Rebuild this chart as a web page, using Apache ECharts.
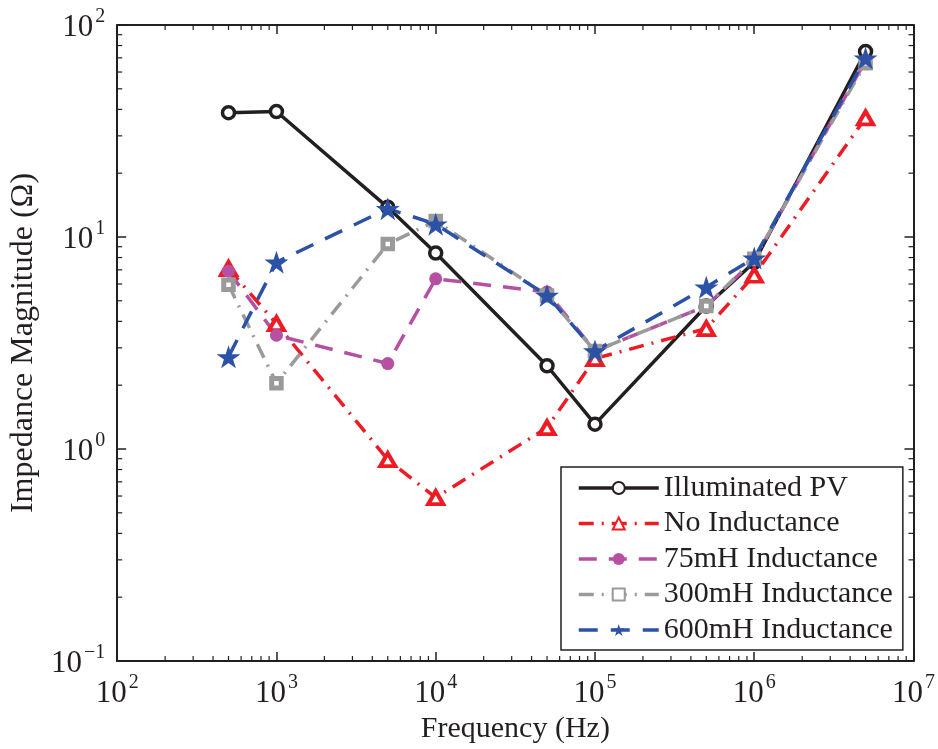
<!DOCTYPE html>
<html>
<head>
<meta charset="utf-8">
<script src="https://cdn.jsdelivr.net/npm/echarts@6/dist/echarts.min.js"></script>
<style>html,body{margin:0;padding:0;background:#fff}#c{width:938px;height:749px}</style>
</head>
<body>
<div id="c"></div>
<script>
const freq = [500, 1000, 5000, 10000, 50000, 100000, 500000, 1000000, 5000000];
const illuminatedPV = [38.6, 39.1, 13.8, 8.4, 2.47, 1.31, 4.73, 7.6, 75];
const noInductance = [7.1, 3.9, 0.89, 0.59, 1.26, 2.67, 3.7, 6.6, 36.5];
const ind75mH = [6.9, 3.44, 2.53, 6.35, 5.5, 2.9, 4.73, 7.8, 68];
const ind300mH = [5.95, 2.04, 9.27, 11.9, 5.3, 2.9, 4.73, 7.9, 66];
const ind600mH = [2.72, 7.6, 13.6, 11.5, 5.3, 2.9, 5.8, 7.95, 69.8];
const seriesNames = ['Illuminated PV', 'No Inductance', '75mH Inductance', '300mH Inductance', '600mH Inductance'];
const xRange = [100, 10000000];
const yRange = [0.1, 100];

const FONT = '"Liberation Serif", "Times New Roman", serif';
const TXT = '#231f20';
const STAR = 'path://M100,0 L122.45,69.1 L195.11,69.1 L136.33,111.8 L158.78,180.9 L100,138.2 L41.22,180.9 L63.67,111.8 L4.89,69.1 L77.55,69.1 Z';

function pairs(ys) { return freq.map((f, i) => [f, ys[i]]); }
function powLabel(v) {
  const e = Math.round(Math.log10(v));
  return '{b|10}{s|' + (e < 0 ? '\u2212' + (-e) : e) + '}';
}
const rich = {
  b: { fontFamily: FONT, fontSize: 31, color: TXT, lineHeight: 36, verticalAlign: 'bottom' },
  s: { fontFamily: FONT, fontSize: 20, color: TXT, lineHeight: 36, verticalAlign: 'top', padding: [0, 0, 0, 2] }
};
const axisCommon = {
  type: 'log', logBase: 10,
  axisLine: { show: true, onZero: false, lineStyle: { color: TXT, width: 2 } },
  axisTick: { show: true, inside: true, length: 9, lineStyle: { color: TXT, width: 1.5 } },
  splitLine: { show: false }
};

const chart = echarts.init(document.getElementById('c'), null, { renderer: 'canvas' });
const option = {
  animation: false,
  backgroundColor: '#fff',
  grid: { left: 113, right: 21, top: 25, bottom: 85, containLabel: false },
  xAxis: [
    Object.assign({}, axisCommon, {
      min: xRange[0], max: xRange[1], splitNumber: 5, position: 'bottom',
      name: 'Frequency (Hz)', nameLocation: 'middle', nameGap: 53,
      nameTextStyle: { fontFamily: FONT, fontSize: 30, color: TXT },
      axisLabel: { margin: 12, formatter: powLabel, rich: rich }
    }),
    Object.assign({}, axisCommon, {
      min: xRange[0], max: xRange[1], splitNumber: 5, position: 'top',
      axisLabel: { show: false }
    })
  ],
  yAxis: [
    Object.assign({}, axisCommon, {
      min: yRange[0], max: yRange[1], splitNumber: 3, position: 'left',
      name: 'Impedance Magnitude (\u03A9)', nameLocation: 'middle', nameGap: 70,
      nameTextStyle: { fontFamily: FONT, fontSize: 32, color: TXT },
      axisLabel: { margin: 12, formatter: powLabel, rich: rich }
    }),
    Object.assign({}, axisCommon, {
      min: yRange[0], max: yRange[1], splitNumber: 3, position: 'right',
      axisLabel: { show: false }
    })
  ],
  legend: {
    orient: 'vertical', left: 561, top: 467,
    backgroundColor: '#fff', borderColor: TXT, borderWidth: 1.5,
    padding: [5, 10, 4, 16], itemWidth: 80, itemHeight: 15, itemGap: 3.5,
    lineStyle: { width: 3.5 },
    textStyle: { fontFamily: FONT, fontSize: 30, color: TXT, lineHeight: 32 },
    data: seriesNames
  },
  series: [
    {
      name: seriesNames[0], type: 'line', data: pairs(illuminatedPV), color: '#231f20',
      symbol: 'circle', symbolSize: 12,
      lineStyle: { color: '#231f20', width: 3.5 },
      itemStyle: { color: '#fff', borderColor: '#231f20', borderWidth: 3.5 }
    },
    {
      name: seriesNames[1], type: 'line', data: pairs(noInductance), color: '#ed1c24',
      symbol: 'triangle', symbolSize: [15, 13],
      lineStyle: { color: '#ed1c24', width: 3.5, type: [15, 8, 2, 8] },
      itemStyle: { color: '#fff', borderColor: '#ed1c24', borderWidth: 4 }
    },
    {
      name: seriesNames[2], type: 'line', data: pairs(ind75mH), color: '#b650a3',
      symbol: 'circle', symbolSize: 13,
      lineStyle: { color: '#b650a3', width: 3.5, type: [18, 12] },
      itemStyle: { color: '#b650a3', borderColor: '#b650a3', borderWidth: 0 }
    },
    {
      name: seriesNames[3], type: 'line', data: pairs(ind300mH), color: '#9a9a9a',
      symbol: 'rect', symbolSize: 9.5,
      lineStyle: { color: '#9a9a9a', width: 3.5, type: [15, 8, 2, 8] },
      itemStyle: { color: '#fff', borderColor: '#9a9a9a', borderWidth: 5 }
    },
    {
      name: seriesNames[4], type: 'line', data: pairs(ind600mH), color: '#2b52a7',
      symbol: STAR, symbolSize: [24, 23],
      lineStyle: { color: '#2b52a7', width: 3.5, type: [19, 13] },
      itemStyle: { color: '#2b52a7', borderWidth: 0 }
    }
  ]
};
chart.setOption(option);

// minor log ticks on all four sides, placed through the axis scales
const gr = chart.getModel().getComponent('grid', 0).coordinateSystem.getRect();
const g = [];
const ML = 5;
const tickStyle = { stroke: TXT, lineWidth: 1.2 };
for (let d = Math.log10(xRange[0]); d < Math.log10(xRange[1]); d++) {
  for (let k = 2; k <= 9; k++) {
    const px = chart.convertToPixel({ xAxisIndex: 0 }, k * Math.pow(10, d));
    g.push({ type: 'line', silent: true, z: 5, shape: { x1: px, y1: gr.y + gr.height, x2: px, y2: gr.y + gr.height - ML }, style: tickStyle });
    g.push({ type: 'line', silent: true, z: 5, shape: { x1: px, y1: gr.y, x2: px, y2: gr.y + ML }, style: tickStyle });
  }
}
for (let d = Math.round(Math.log10(yRange[0])); d < Math.round(Math.log10(yRange[1])); d++) {
  for (let k = 2; k <= 9; k++) {
    const py = chart.convertToPixel({ yAxisIndex: 0 }, k * Math.pow(10, d));
    g.push({ type: 'line', silent: true, z: 5, shape: { x1: gr.x, y1: py, x2: gr.x + ML, y2: py }, style: tickStyle });
    g.push({ type: 'line', silent: true, z: 5, shape: { x1: gr.x + gr.width, y1: py, x2: gr.x + gr.width - ML, y2: py }, style: tickStyle });
  }
}
chart.setOption({ graphic: g });
</script>
</body>
</html>
